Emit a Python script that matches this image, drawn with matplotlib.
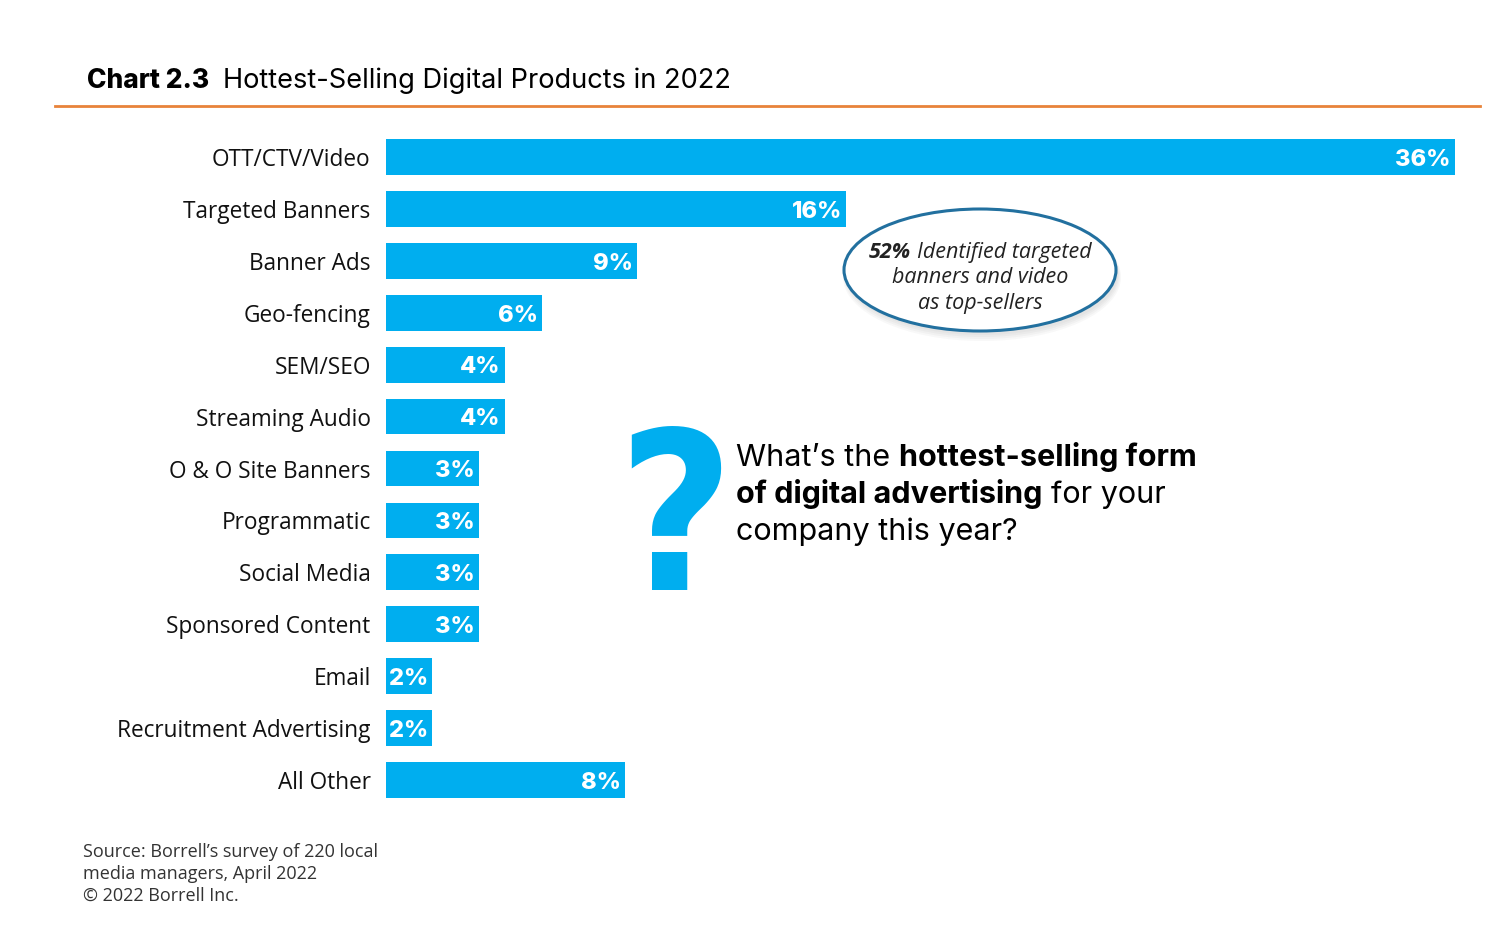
import numpy as np
import matplotlib.pyplot as plt
from matplotlib.patches import Ellipse
from matplotlib.lines import Line2D

# Daten
categories = ['OTT/CTV/Video', 'Targeted Banners', 'Banner Ads', 'Geo-fencing',
              'SEM/SEO', 'Streaming Audio', 'O & O Site Banners', 'Programmatic',
              'Social Media', 'Sponsored Content', 'Email',
              'Recruitment Advertising', 'All Other']
values = [36.0, 15.5, 8.45, 5.25, 4.0, 4.0, 3.13, 3.13, 3.13, 3.13, 1.55, 1.55, 8.05]
value_labels = ['36%', '16%', '9%', '6%', '4%', '4%', '3%', '3%', '3%', '3%',
                '2%', '2%', '8%']

BLUE = '#00AEEF'
W, H = 1500, 941

fig = plt.figure(figsize=(15, 9.41), dpi=100)
renderer = fig.canvas.get_renderer()


def fx(px):
    return px / W


def fy(py):
    return 1 - py / H


def runs_width(runs, size, family):
    total = 0
    for txt, props in runs:
        t = fig.text(0, 0, txt, fontsize=size, family=family, **props)
        total += t.get_window_extent(renderer).width
        t.remove()
    return total


def space_width(size, family, props):
    a = fig.text(0, 0, 'x x', fontsize=size, family=family, **props)
    b = fig.text(0, 0, 'xx', fontsize=size, family=family, **props)
    w = a.get_window_extent(renderer).width - b.get_window_extent(renderer).width
    a.remove()
    b.remove()
    return w


def draw_runs(x_px, y_px, runs, size, family, color='black'):
    # runs: Liste aus (text, props); Leerzeichen als eigener Run ' '
    x = x_px
    for txt, props in runs:
        if txt == ' ':
            x += space_width(size, family, props)
            continue
        t = fig.text(fx(x), fy(y_px), txt, fontsize=size, family=family,
                     va='baseline', ha='left', color=color, **props)
        x += t.get_window_extent(renderer).width


# Balken
ax = fig.add_axes([fx(386), fy(806), 1069 / W, 675 / H])
y = np.arange(len(categories))
ax.barh(y, values, height=0.69, color=BLUE)
ax.set_xlim(0, 36)
ax.set_ylim(len(categories) - 0.5, -0.5)
ax.set_yticks(y)
ax.set_yticklabels(categories, fontsize=16.3, family='Open Sans', color='#111111')
ax.tick_params(axis='y', length=0, pad=11)
ax.set_xticks([])
for s in ax.spines.values():
    s.set_visible(False)

for yi, v, lab in zip(y, values, value_labels):
    ax.annotate(lab, xy=(v, yi), xytext=(-3, -2), textcoords='offset points',
                ha='right', va='center', color='white', fontsize=17,
                fontweight='heavy', family='Inter')

# Titel + orange Linie
fig.text(fx(87), fy(88), 'Chart 2.3', fontsize=19, fontweight='heavy',
         family='Inter', va='baseline', ha='left')
fig.text(fx(223), fy(88), 'Hottest-Selling Digital Products in 2022', fontsize=19.6,
         family='Inter', va='baseline', ha='left')
fig.add_artist(Line2D([fx(55), fx(1480)], [fy(106), fy(106)], color='#E8833A', lw=2))

# Fragezeichen + Frage
fig.text(fx(675), fy(590), '?', fontsize=160, fontweight='bold',
         family='DejaVu Sans', fontstretch='condensed',
         color=BLUE, ha='center', va='baseline')
bold = {'fontweight': 'bold'}
norm = {'fontweight': 'normal'}
q_size = 22
draw_runs(736, 466, [('What’s the', norm), (' ', norm), ('hottest-selling form', bold)],
          q_size, 'Inter')
draw_runs(736, 503, [('of digital advertising', bold), (' ', norm), ('for your', norm)],
          q_size, 'Inter')
draw_runs(736, 540, [('company this year?', norm)], q_size, 'Inter')

# Ellipse mit Schatten
cx, cy, ew, eh = 980, 270, 272, 122
for i in range(4):
    sh = Ellipse((fx(cx + 2), fy(cy + 4 + i)), (ew + 2 * i) / W, (eh + 2 * i) / H,
                 transform=fig.transFigure, facecolor='#777777', edgecolor='none',
                 alpha=0.05)
    fig.add_artist(sh)
ell = Ellipse((fx(cx), fy(cy)), ew / W, eh / H, transform=fig.transFigure,
              facecolor='white', edgecolor='#22709F', lw=2.2)
fig.add_artist(ell)

e_size = 15.5
it = {'style': 'italic', 'fontweight': 'normal'}
itb = {'style': 'italic', 'fontweight': 'bold'}
line1 = [('52%', itb), (' ', it), ('Identified targeted', it)]
w1 = runs_width([line1[0], line1[2]], e_size, 'Open Sans') + space_width(e_size, 'Open Sans', it)
draw_runs(cx - w1 / 2, 258, line1, e_size, 'Open Sans', color='#222222')
for txt, yy in [('banners and video', 283), ('as top-sellers', 309)]:
    fig.text(fx(cx), fy(yy), txt, fontsize=e_size, family='Open Sans', style='italic',
             ha='center', va='baseline', color='#222222')

# Quelle
for txt, yy in [('Source: Borrell’s survey of 220 local', 857),
                ('media managers, April 2022', 879),
                ('© 2022 Borrell Inc.', 901)]:
    fig.text(fx(83), fy(yy), txt, fontsize=13, family='Open Sans', color='#333333',
             ha='left', va='baseline')

fig.savefig('out.png', dpi=100)
